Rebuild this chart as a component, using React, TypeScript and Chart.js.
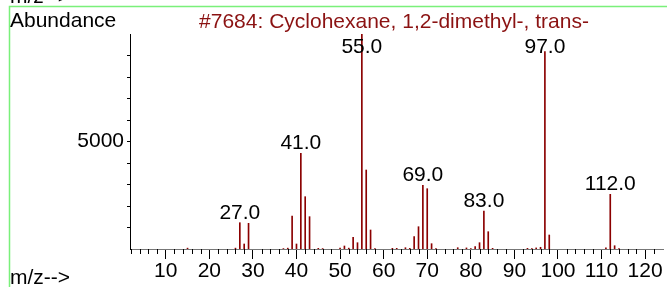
import React, { useEffect, useRef } from "react";
import { Chart, registerables } from "chart.js";

Chart.register(...registerables);

const FONT = '"Liberation Sans", Arial, sans-serif';
const BAR_COLOR = "#8b0000";
const TITLE_COLOR = "#8b1212";

const titleText = "#7684: Cyclohexane, 1,2-dimethyl-, trans-";
const yAxisTitle = "Abundance";
const xAxisTitle = "m/z-->";

const mz = [15, 26, 27, 28, 29, 37, 38, 39, 40, 41, 42, 43, 45, 46, 50, 51, 52, 53, 54, 55, 56, 57, 58, 62, 63, 65, 66, 67, 68, 69, 70, 71, 72, 77, 79, 80, 81, 82, 83, 84, 85, 93, 94, 95, 96, 97, 98, 111, 112, 113, 114];
const abundance = [40, 40, 1223, 233, 1195, 20, 40, 1535, 233, 4450, 2433, 1504, 30, 20, 40, 140, 40, 544, 293, 10000, 3674, 884, 20, 30, 30, 60, 30, 572, 1037, 2963, 2805, 247, 20, 60, 50, 20, 107, 293, 1767, 805, 30, 30, 20, 50, 80, 9177, 651, 50, 2544, 153, 20];

const peakLabels = [27, 41, 55, 69, 83, 97, 112];

const xMajorTicks = [10, 20, 30, 40, 50, 60, 70, 80, 90, 100, 110, 120];
const xMinorTicks = [2, 4, 6, 8, 12, 14, 16, 18, 22, 24, 26, 28, 32, 34, 36, 38, 42, 44, 46, 48, 52, 54, 56, 58, 62, 64, 66, 68, 72, 74, 76, 78, 82, 84, 86, 88, 92, 94, 96, 98, 102, 104, 106, 108, 112, 114, 116, 118, 122];
const yTicks = [1000, 2000, 3000, 4000, 5000, 6000, 7000, 8000, 9000];
const yLabelled = [5000];

const X_MIN = 1.8;
const X_MAX = 124.1;
const Y_MAX = 10000;

const decorPlugin = {
  id: "decor",
  beforeDraw(chart: any) {
    const ctx = chart.ctx;
    ctx.save();
    ctx.strokeStyle = "#7af07a";
    ctx.lineWidth = 1.5;
    ctx.beginPath();
    ctx.moveTo(667, 6.5);
    ctx.lineTo(9.5, 6.5);
    ctx.lineTo(9.5, 287);
    ctx.stroke();
    ctx.restore();
  },
  afterDraw(chart: any) {
    const ctx = chart.ctx;
    const xs = chart.scales.x;
    const ys = chart.scales.y;
    const bottom = chart.chartArea.bottom;
    ctx.save();
    // minor x ticks
    ctx.strokeStyle = "#000";
    ctx.lineWidth = 1;
    ctx.beginPath();
    for (const m of xMinorTicks) {
      const px = Math.round(xs.getPixelForValue(m)) + 0.5;
      ctx.moveTo(px, bottom);
      ctx.lineTo(px, bottom + 5);
    }
    ctx.stroke();

    ctx.font = `21px ${FONT}`;
    ctx.textBaseline = "alphabetic";
    ctx.fillStyle = "#000";
    ctx.textAlign = "left";
    ctx.fillText(yAxisTitle, 10, 27);
    ctx.fillText(xAxisTitle, 10, 284);
    ctx.fillText(xAxisTitle, 10, 3);

    ctx.fillStyle = TITLE_COLOR;
    ctx.textAlign = "center";
    ctx.fillText(titleText, 394, 28);

    ctx.fillStyle = "#000";
    for (const m of peakLabels) {
      const i = mz.indexOf(m);
      const px = xs.getPixelForValue(m);
      const py = ys.getPixelForValue(abundance[i]);
      const base = Math.max(53, py - 4);
      ctx.fillText(m.toFixed(1), px, base);
    }
    ctx.restore();
  },
};

export default function App() {
  const ref = useRef<HTMLCanvasElement | null>(null);
  useEffect(() => {
    document.body.style.margin = "0";
    const canvas = ref.current!;
    const chart = new Chart(canvas, {
      type: "bar",
      data: {
        datasets: [
          {
            data: mz.map((m, i) => ({ x: m, y: abundance[i] })),
            backgroundColor: BAR_COLOR,
            borderWidth: 0,
            barThickness: 1,
          } as any,
        ],
      },
      options: {
        animation: false,
        responsive: false,
        devicePixelRatio: 1,
        layout: { padding: { left: 0, top: 34, right: 4, bottom: 0 } },
        plugins: {
          legend: { display: false },
          tooltip: { enabled: false },
          title: { display: false },
        },
        scales: {
          x: {
            type: "linear",
            min: X_MIN,
            max: X_MAX,
            offset: false,
            afterBuildTicks: (s: any) => {
              s.ticks = xMajorTicks.map((v) => ({ value: v }));
            },
            afterFit: (s: any) => {
              s.height = 38;
            },
            grid: {
              display: true,
              offset: false,
              drawOnChartArea: false,
              drawTicks: true,
              tickLength: 10,
              color: "#000",
              lineWidth: 1,
            },
            border: { display: true, color: "#777", width: 1 },
            ticks: {
              color: "#000",
              font: { size: 21, family: FONT },
              padding: 0,
              maxRotation: 0,
              autoSkip: false,
              callback: (v: any) => String(v),
            },
          } as any,
          y: {
            type: "linear",
            min: 0,
            max: Y_MAX,
            afterBuildTicks: (s: any) => {
              s.ticks = yTicks.map((v) => ({ value: v }));
            },
            afterFit: (s: any) => {
              s.width = 130;
            },
            grid: {
              display: true,
              drawOnChartArea: false,
              drawTicks: true,
              tickLength: 3,
              color: "#000",
            },
            border: { display: true, color: "#000", width: 1 },
            ticks: {
              color: "#000",
              font: { size: 21, family: FONT },
              padding: 3,
              autoSkip: false,
              callback: (v: any) => (yLabelled.includes(v) ? String(v) : ""),
            },
          } as any,
        },
      },
      plugins: [decorPlugin],
    });
    return () => chart.destroy();
  }, []);
  return (
    <div style={{ position: "relative", width: 667, height: 287 }}>
      <canvas ref={ref} width={667} height={287} style={{ display: "block" }} />
    </div>
  );
}
